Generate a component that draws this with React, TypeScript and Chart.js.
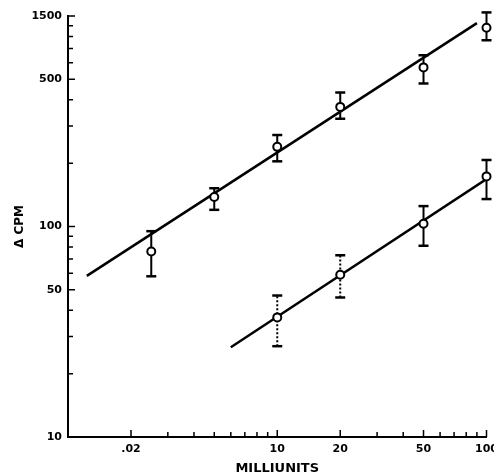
import React, { useEffect, useRef } from "react";
import { Chart, registerables } from "chart.js";

Chart.register(...registerables);

// Upper series (open circles with error bars)
const upperX = [2.5, 5, 10, 20, 50, 100];
const upperY = [76, 138, 239, 370, 570, 880];
const upperLow = [58, 120, 204, 325, 478, 767];
const upperHigh = [95, 152, 272, 433, 651, 1040];

// Lower series
const lowerX = [10, 20, 50, 100];
const lowerY = [37, 59, 103, 173];
const lowerLow = [27, 46, 81, 135];
const lowerHigh = [47, 73, 125, 207];

// Fitted lines (end points)
const upperFitX = [1.23, 90];
const upperFitY = [58.3, 925];
const lowerFitX = [6.0, 100];
const lowerFitY = [26.7, 168];

// Axis ticks
const xTickValues = [2, 10, 20, 50, 100];
const xTickLabels = [".02", "10", "20", "50", "100"];
const yTickValues = [10, 50, 100, 500, 1000];
const yTickLabels = ["10", "50", "100", "500", "1500"];
const xMinor = [2, 3, 4, 5, 6, 7, 8, 9, 10, 20, 30, 40, 50, 60, 70, 80, 90, 100];
const yMinor = [20, 30, 40, 50, 60, 70, 80, 90, 100, 200, 300, 400, 500, 600, 700, 800, 900, 1000];

function errorData(xs: number[], lo: number[], hi: number[]) {
  const out: any[] = [];
  xs.forEach((x, i) => {
    out.push({ x, y: lo[i] });
    out.push({ x, y: hi[i] });
    out.push({ x, y: null });
  });
  return out;
}

const FONT = "'DejaVu Sans', sans-serif";

const tickPlugin = {
  id: "innerTicks",
  afterDatasetsDraw(chart: any) {
    const { ctx } = chart;
    const xs = chart.scales.x;
    const ys = chart.scales.y;
    ctx.save();
    ctx.strokeStyle = "#000";
    ctx.lineWidth = 1.5;
    ctx.beginPath();
    yMinor.forEach((v) => {
      const py = ys.getPixelForValue(v);
      const len = yTickValues.includes(v) ? 7 : 5;
      ctx.moveTo(xs.left, py);
      ctx.lineTo(xs.left + len, py);
    });
    xMinor.forEach((v) => {
      const px = xs.getPixelForValue(v);
      const len = xTickValues.includes(v) ? 7 : 5;
      ctx.moveTo(px, ys.bottom);
      ctx.lineTo(px, ys.bottom - len);
    });
    ctx.stroke();
    ctx.restore();
  },
};

export default function App() {
  const ref = useRef<HTMLCanvasElement | null>(null);
  useEffect(() => {
    if (!ref.current) return;
    const chart = new Chart(ref.current, {
      type: "scatter",
      data: {
        datasets: [
          {
            label: "upper",
            data: upperX.map((x, i) => ({ x, y: upperY[i] })),
            pointRadius: 4,
            pointBackgroundColor: "#fff",
            pointBorderColor: "#000",
            pointBorderWidth: 2,
            showLine: false,
            clip: false,
            order: 0,
          },
          {
            label: "lower",
            data: lowerX.map((x, i) => ({ x, y: lowerY[i] })),
            pointRadius: 4,
            pointBackgroundColor: "#fff",
            pointBorderColor: "#000",
            pointBorderWidth: 2,
            showLine: false,
            clip: false,
            order: 0,
          },
          {
            label: "upperErr",
            data: errorData(upperX, upperLow, upperHigh),
            showLine: true,
            spanGaps: false,
            borderColor: "#000",
            borderWidth: 2,
            pointStyle: "line",
            pointRadius: 5,
            pointBorderWidth: 2.5,
            pointBorderColor: "#000",
            clip: false,
            order: 1,
          },
          {
            label: "lowerErr",
            data: errorData(lowerX, lowerLow, lowerHigh),
            showLine: true,
            spanGaps: false,
            borderColor: "#000",
            borderWidth: 2,
            segment: {
              borderDash: (c: any) => (c.p0DataIndex < 6 ? [2, 2] : undefined),
            },
            pointStyle: "line",
            pointRadius: 5,
            pointBorderWidth: 2.5,
            pointBorderColor: "#000",
            clip: false,
            order: 1,
          },
          {
            label: "upperFit",
            data: upperFitX.map((x, i) => ({ x, y: upperFitY[i] })),
            showLine: true,
            borderColor: "#000",
            borderWidth: 2.5,
            pointRadius: 0,
            order: 2,
          },
          {
            label: "lowerFit",
            data: lowerFitX.map((x, i) => ({ x, y: lowerFitY[i] })),
            showLine: true,
            borderColor: "#000",
            borderWidth: 2.5,
            pointRadius: 0,
            order: 2,
          },
        ] as any,
      },
      options: {
        animation: false,
        responsive: false,
        events: [],
        layout: { padding: { top: 16, right: 7, left: 0, bottom: 0 } },
        plugins: { legend: { display: false }, tooltip: { enabled: false } },
        scales: {
          x: {
            type: "logarithmic",
            min: 1,
            max: 100,
            grid: { display: false, drawTicks: false },
            border: { display: true, color: "#000", width: 2 },
            afterBuildTicks: (s: any) => {
              s.ticks = xTickValues.map((v) => ({ value: v }));
            },
            afterFit: (s: any) => {
              s.height = 39;
              s.paddingRight = 0;
              s.paddingLeft = 0;
            },
            ticks: {
              autoSkip: false,
              maxRotation: 0,
              padding: 6,
              color: "#000",
              font: { family: FONT, size: 11, weight: "bold" },
              callback: (_v: any, i: number) => xTickLabels[i],
            },
            title: {
              display: true,
              text: "MILLIUNITS",
              color: "#000",
              font: { family: FONT, size: 13, weight: "bold" },
              padding: { top: 0, bottom: 0 },
            },
          },
          y: {
            type: "logarithmic",
            min: 10,
            max: 1000,
            grid: { display: false, drawTicks: false },
            border: { display: true, color: "#000", width: 2 },
            afterBuildTicks: (s: any) => {
              s.ticks = yTickValues.map((v) => ({ value: v }));
            },
            afterFit: (s: any) => {
              s.width = 68;
              s.paddingTop = 0;
              s.paddingBottom = 0;
            },
            ticks: {
              autoSkip: false,
              padding: 6,
              color: "#000",
              font: { family: FONT, size: 11, weight: "bold" },
              callback: (_v: any, i: number) => yTickLabels[i],
            },
            title: {
              display: true,
              text: "Δ CPM",
              color: "#000",
              font: { family: FONT, size: 12, weight: "bold" },
              padding: { top: 13, bottom: 0 },
            },
          },
        },
      } as any,
      plugins: [tickPlugin],
    });
    return () => chart.destroy();
  }, []);
  return (
    <div style={{ position: "fixed", left: 0, top: 0, width: 494, height: 476, background: "#fff" }}>
      <canvas ref={ref} width={494} height={476} />
    </div>
  );
}
